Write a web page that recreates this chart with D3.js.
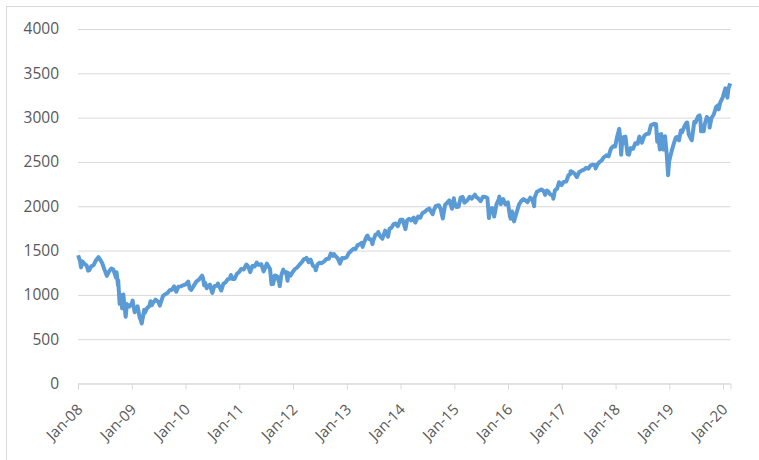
<!DOCTYPE html>
<html>
<head>
<meta charset="utf-8">
<script src="https://cdn.jsdelivr.net/npm/d3@7"></script>
<style>
  body { margin: 0; background: #fff; }
  text { font-family: "Open Sans", sans-serif; fill: #595959; }
</style>
</head>
<body>
<div id="chart"></div>
<script>
// index closes (roughly twice a month, extra points on big swings)
var dates = [
  "2008-01-02","2008-01-15","2008-01-22","2008-01-31","2008-02-15","2008-02-29","2008-03-10","2008-03-17","2008-03-31",
  "2008-04-15","2008-04-30","2008-05-19","2008-05-30","2008-06-13","2008-06-30","2008-07-15","2008-07-31","2008-08-15",
  "2008-08-29","2008-09-15","2008-09-19","2008-09-29","2008-09-30","2008-10-10","2008-10-13","2008-10-27","2008-10-31",
  "2008-11-04","2008-11-20","2008-11-28","2008-12-15","2008-12-31",
  "2009-01-06","2009-01-20","2009-01-30","2009-02-09","2009-02-23","2009-02-27","2009-03-09","2009-03-26","2009-03-31",
  "2009-04-15","2009-04-30","2009-05-08","2009-05-15","2009-05-29","2009-06-12","2009-06-30","2009-07-10","2009-07-31",
  "2009-08-14","2009-08-31","2009-09-15","2009-09-30","2009-10-15","2009-10-30","2009-11-13","2009-11-30","2009-12-15","2009-12-31",
  "2010-01-19","2010-01-29","2010-02-08","2010-02-26","2010-03-15","2010-03-31","2010-04-23","2010-04-30","2010-05-07",
  "2010-05-14","2010-05-25","2010-05-28","2010-06-15","2010-06-30","2010-07-02","2010-07-15","2010-07-30","2010-08-09",
  "2010-08-27","2010-08-31","2010-09-15","2010-09-30","2010-10-15","2010-10-29","2010-11-05","2010-11-16","2010-11-30",
  "2010-12-15","2010-12-31",
  "2011-01-14","2011-01-31","2011-02-18","2011-02-28","2011-03-16","2011-03-31","2011-04-15","2011-04-29","2011-05-13",
  "2011-05-31","2011-06-15","2011-06-30","2011-07-07","2011-07-29","2011-08-08","2011-08-15","2011-08-19","2011-08-31",
  "2011-09-15","2011-09-30","2011-10-03","2011-10-14","2011-10-27","2011-10-31","2011-11-15","2011-11-25","2011-11-30",
  "2011-12-15","2011-12-30",
  "2012-01-13","2012-01-31","2012-02-15","2012-02-29","2012-03-15","2012-03-30","2012-04-02","2012-04-16","2012-04-30",
  "2012-05-15","2012-05-31","2012-06-04","2012-06-15","2012-06-29","2012-07-13","2012-07-31","2012-08-15","2012-08-31",
  "2012-09-14","2012-09-28","2012-10-05","2012-10-15","2012-10-31","2012-11-15","2012-11-30","2012-12-14","2012-12-31",
  "2013-01-15","2013-01-31","2013-02-15","2013-02-28","2013-03-15","2013-03-28","2013-04-12","2013-04-18","2013-04-30",
  "2013-05-15","2013-05-21","2013-05-31","2013-06-14","2013-06-24","2013-06-28","2013-07-15","2013-07-31","2013-08-02",
  "2013-08-15","2013-08-30","2013-09-18","2013-09-30","2013-10-08","2013-10-18","2013-10-31","2013-11-15","2013-11-29",
  "2013-12-13","2013-12-31",
  "2014-01-15","2014-02-03","2014-02-14","2014-02-28","2014-03-14","2014-03-31","2014-04-11","2014-04-30","2014-05-15",
  "2014-05-30","2014-06-13","2014-06-30","2014-07-15","2014-07-31","2014-08-07","2014-08-15","2014-08-29","2014-09-18",
  "2014-09-30","2014-10-15","2014-10-31","2014-11-14","2014-11-28","2014-12-16","2014-12-29","2014-12-31",
  "2015-01-15","2015-01-30","2015-02-13","2015-02-27","2015-03-11","2015-03-31","2015-04-15","2015-04-30","2015-05-21",
  "2015-05-29","2015-06-15","2015-06-29","2015-07-15","2015-07-31","2015-08-14","2015-08-25","2015-08-31","2015-09-15",
  "2015-09-29","2015-10-15","2015-10-30","2015-11-03","2015-11-13","2015-11-30","2015-12-14","2015-12-31",
  "2016-01-15","2016-01-20","2016-01-29","2016-02-11","2016-02-29","2016-03-15","2016-03-31","2016-04-15","2016-04-29",
  "2016-05-13","2016-05-31","2016-06-15","2016-06-27","2016-06-30","2016-07-15","2016-07-29","2016-08-15","2016-08-31",
  "2016-09-09","2016-09-22","2016-09-30","2016-10-14","2016-10-31","2016-11-04","2016-11-15","2016-11-30","2016-12-13","2016-12-30",
  "2017-01-13","2017-01-31","2017-02-15","2017-02-28","2017-03-01","2017-03-15","2017-03-31","2017-04-13","2017-04-28",
  "2017-05-15","2017-05-31","2017-06-15","2017-06-30","2017-07-14","2017-07-31","2017-08-15","2017-08-18","2017-08-31",
  "2017-09-15","2017-09-29","2017-10-13","2017-10-31","2017-11-15","2017-11-30","2017-12-15","2017-12-29",
  "2018-01-12","2018-01-26","2018-02-02","2018-02-08","2018-02-15","2018-02-26","2018-02-28","2018-03-09","2018-03-23",
  "2018-03-29","2018-04-02","2018-04-13","2018-04-30","2018-05-15","2018-05-31","2018-06-12","2018-06-29","2018-07-16",
  "2018-07-31","2018-08-15","2018-08-29","2018-09-20","2018-09-28","2018-10-03","2018-10-11","2018-10-17","2018-10-29",
  "2018-10-31","2018-11-07","2018-11-20","2018-11-30","2018-12-03","2018-12-14","2018-12-24","2018-12-31",
  "2019-01-15","2019-01-31","2019-02-15","2019-02-28","2019-03-08","2019-03-21","2019-03-29","2019-04-15","2019-04-30",
  "2019-05-03","2019-05-13","2019-05-31","2019-06-03","2019-06-20","2019-06-28","2019-07-15","2019-07-26","2019-07-31",
  "2019-08-05","2019-08-15","2019-08-23","2019-08-30","2019-09-13","2019-09-30","2019-10-02","2019-10-15","2019-10-31",
  "2019-11-15","2019-11-29","2019-12-03","2019-12-13","2019-12-31",
  "2020-01-17","2020-01-31","2020-02-07","2020-02-19"
];
var closes = [
  1447,1380,1310,1378,1349,1330,1273,1277,1322,
  1334,1385,1426,1400,1360,1280,1214,1267,1298,
  1283,1193,1255,1106,1166,899,1003,848,968,
  1005,752,896,868,903,
  935,805,826,870,743,735,677,832,798,
  852,873,929,882,919,946,919,879,987,
  1005,1021,1052,1057,1096,1036,1093,1096,1108,1115,
  1150,1074,1056,1104,1150,1169,1217,1187,1110,
  1136,1074,1089,1115,1031,1022,1097,1102,1128,
  1065,1049,1125,1141,1176,1183,1225,1178,1180,
  1236,1258,
  1293,1286,1343,1327,1257,1326,1320,1364,1338,
  1345,1265,1321,1353,1292,1119,1204,1124,1219,
  1209,1131,1099,1225,1285,1253,1257,1159,1247,
  1216,1258,
  1289,1312,1343,1366,1402,1408,1419,1369,1398,
  1330,1310,1278,1343,1362,1357,1379,1405,1407,
  1466,1441,1461,1440,1412,1353,1416,1413,1426,
  1472,1498,1520,1515,1561,1569,1588,1541,1598,
  1658,1669,1631,1626,1573,1606,1682,1686,1710,
  1661,1633,1725,1682,1656,1745,1757,1798,1806,
  1775,1848,
  1848,1742,1838,1859,1841,1872,1816,1884,1870,
  1924,1936,1960,1973,1931,1910,1955,2003,2011,
  1972,1862,2018,2039,2067,1972,2090,2059,
  1992,1995,2097,2105,2040,2068,2107,2086,2131,
  2107,2084,2057,2108,2104,2092,1867,1972,1979,
  1884,2023,2079,2109,2023,2080,2021,2044,
  1880,1859,1940,1829,1932,2016,2060,2081,2065,
  2047,2097,2072,2001,2099,2162,2174,2190,2171,
  2128,2177,2168,2133,2126,2085,2180,2199,2271,2239,
  2275,2279,2350,2364,2396,2385,2363,2329,2384,
  2402,2412,2433,2423,2459,2470,2464,2426,2472,
  2500,2519,2553,2575,2565,2648,2676,2674,
  2786,2873,2762,2581,2732,2780,2714,2786,2588,
  2641,2582,2656,2648,2711,2705,2786,2718,2798,
  2816,2818,2914,2931,2914,2926,2728,2809,2641,
  2712,2814,2641,2760,2790,2600,2351,2507,
  2610,2704,2776,2784,2743,2855,2834,2906,2946,
  2946,2812,2752,2744,2954,2942,3014,3026,2980,
  2845,2848,2847,2926,3007,2977,2888,2996,3038,
  3120,3141,3093,3169,3231,
  3330,3226,3328,3386
];
var yTicks = [0, 500, 1000, 1500, 2000, 2500, 3000, 3500, 4000];
var xTickYears = [2008, 2009, 2010, 2011, 2012, 2013, 2014, 2015, 2016, 2017, 2018, 2019, 2020];

var svgWidth = 759;
var svgHeight = 460;

var parseDate = d3.timeParse("%Y-%m-%d");
var data = dates.map((d, i) => ({ date: parseDate(d), value: closes[i] }));

var svg = d3.select("#chart")
  .append("svg")
  .attr("width", svgWidth)
  .attr("height", svgHeight);

// chart area border (only top and left show in the screenshot)
svg.append("rect")
  .attr("x", 6.5)
  .attr("y", 6.5)
  .attr("width", 800)
  .attr("height", 600)
  .attr("fill", "none")
  .attr("stroke", "#d9d9d9");

var xScale = d3.scaleTime()
  .domain([new Date(2008, 0, 1), new Date(2020, 1, 21)])
  .range([78, 730.5]);

var yScale = d3.scaleLinear()
  .domain([0, 4000])
  .range([383.5, 29]);

// gridlines + y labels
var yAxis = d3.axisLeft(yScale)
  .tickValues(yTicks)
  .tickSize(-(730.5 - 78))
  .tickPadding(19)
  .tickFormat(d3.format("d"));

var yG = svg.append("g")
  .attr("transform", "translate(78,0)")
  .call(yAxis);
yG.select(".domain").remove();
yG.selectAll(".tick line").attr("stroke", "#d9d9d9");
yG.selectAll(".tick text")
  .style("font-size", "15.5px")
  .attr("fill", "#595959");

// x axis
var xAxis = d3.axisBottom(xScale)
  .tickValues(xTickYears.map(y => new Date(y, 0, 1)))
  .tickSize(6)
  .tickFormat(d3.timeFormat("%b-%y"));

var xG = svg.append("g")
  .attr("transform", "translate(0,383.5)")
  .call(xAxis);
xG.select(".domain").attr("stroke", "#d9d9d9");
xG.selectAll(".tick line").attr("stroke", "#d9d9d9");
xG.selectAll(".tick text")
  .style("font-size", "15px")
  .attr("fill", "#595959")
  .attr("text-anchor", "end")
  .attr("x", 0)
  .attr("y", 0)
  .attr("dy", "0")
  .attr("transform", "translate(5,27) rotate(-45)");

// the line
var line = d3.line()
  .x(d => xScale(d.date))
  .y(d => yScale(d.value));

svg.append("path")
  .datum(data)
  .attr("d", line)
  .attr("fill", "none")
  .attr("stroke", "#5b9bd5")
  .attr("stroke-width", 4)
  .attr("stroke-linejoin", "round");
</script>
</body>
</html>
